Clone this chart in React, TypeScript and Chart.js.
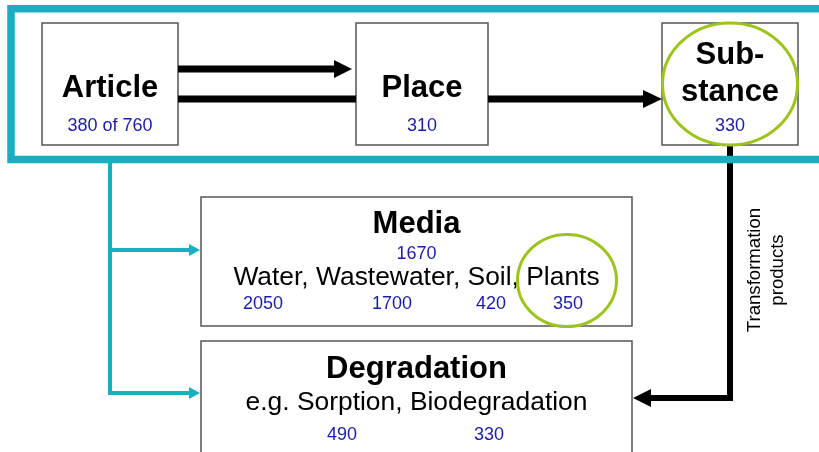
import { useEffect, useRef } from "react";
import { Chart, registerables } from "chart.js";

Chart.register(...registerables);

// ---------- data ----------
const pipelineSteps = ["Article", "Place", "Sub-|stance"];
const pipelineCounts = ["380 of 760", "310", "330"];
const mediaTitle = "Media";
const mediaTotal = ["1670"];
const mediaCategories = ["Water", "Wastewater", "Soil", "Plants"];
const mediaCounts = [2050, 1700, 420, 350];
const degradationTitle = "Degradation";
const degradationCategories = ["Sorption", "Biodegradation"];
const degradationCounts = [490, 330];
const linkLabel = ["Transformation", "products"];

// ---------- layout (positions/sizes/styles) ----------
const W = 819;
const H = 452;
const FONT = "'Liberation Sans', Arial, sans-serif";
const BLUE = "#1c1ca8";
const TEAL = "#19aec0";
const GREEN = "#9cc41c";
const BORDER = "#555555";

const STEP_BOXES = [
  [42, 23, 178, 145],
  [356, 23, 488, 145],
  [662, 23, 798, 145],
];
const STEP_CX = [110, 422, 730];
const MEDIA_BOX = [201, 197, 632, 326];
const DEG_BOX = [201, 341, 632, 472];
const CENTER_X = 416.5;
const MEDIA_COUNT_X = [263, 392, 491, 568];
const MEDIA_COUNT_Y = 309;
const DEG_COUNT_X = [342, 489];
const DEG_COUNT_Y = 440;

function drawArrowH(ctx: CanvasRenderingContext2D, x1: number, y: number, tip: number, width: number, headLen: number, headHalf: number, color: string) {
  const dir = tip > x1 ? 1 : -1;
  const base = tip - dir * headLen;
  ctx.save();
  ctx.strokeStyle = color;
  ctx.fillStyle = color;
  ctx.lineWidth = width;
  ctx.beginPath();
  ctx.moveTo(x1, y);
  ctx.lineTo(base + dir * 1, y);
  ctx.stroke();
  ctx.beginPath();
  ctx.moveTo(tip, y);
  ctx.lineTo(base, y - headHalf);
  ctx.lineTo(base, y + headHalf);
  ctx.closePath();
  ctx.fill();
  ctx.restore();
}

const diagramPlugin = {
  id: "diagram",
  afterDatasetsDraw(chart: any) {
    const ctx: CanvasRenderingContext2D = chart.ctx;
    const sx = chart.scales.x;
    const sy = chart.scales.y;
    const X = (v: number) => sx.getPixelForValue(v);
    const Y = (v: number) => sy.getPixelForValue(v);

    ctx.save();
    ctx.fillStyle = "#ffffff";
    ctx.fillRect(0, 0, W, H);

    // boxes
    const boxes = [...STEP_BOXES, MEDIA_BOX, DEG_BOX];
    boxes.forEach((b) => {
      ctx.fillStyle = "#ffffff";
      ctx.fillRect(X(b[0]), Y(b[1]), X(b[2]) - X(b[0]), Y(b[3]) - Y(b[1]));
      ctx.strokeStyle = BORDER;
      ctx.lineWidth = 1.5;
      ctx.strokeRect(X(b[0]), Y(b[1]), X(b[2]) - X(b[0]), Y(b[3]) - Y(b[1]));
    });

    // black arrows between steps
    drawArrowH(ctx, X(178), Y(69), X(352), 7, 18, 9, "#000");
    ctx.strokeStyle = "#000";
    ctx.lineWidth = 7;
    ctx.beginPath();
    ctx.moveTo(X(178), Y(99));
    ctx.lineTo(X(356), Y(99));
    ctx.stroke();
    drawArrowH(ctx, X(488), Y(99), X(662), 7, 19, 9, "#000");

    // transformation products path
    ctx.strokeStyle = "#000";
    ctx.lineWidth = 6;
    ctx.lineJoin = "miter";
    ctx.beginPath();
    ctx.moveTo(X(730), Y(146));
    ctx.lineTo(X(730), Y(398));
    ctx.lineTo(X(650), Y(398));
    ctx.stroke();
    ctx.fillStyle = "#000";
    ctx.beginPath();
    ctx.moveTo(X(633), Y(398));
    ctx.lineTo(X(651), Y(389));
    ctx.lineTo(X(651), Y(407));
    ctx.closePath();
    ctx.fill();

    // teal frame
    ctx.strokeStyle = TEAL;
    ctx.lineWidth = 7.5;
    ctx.lineJoin = "miter";
    ctx.beginPath();
    ctx.moveTo(X(830), Y(8.75));
    ctx.lineTo(X(11), Y(8.75));
    ctx.lineTo(X(11), Y(159.5));
    ctx.lineTo(X(830), Y(159.5));
    ctx.stroke();

    // teal branch
    ctx.lineWidth = 4;
    ctx.beginPath();
    ctx.moveTo(X(110), Y(162));
    ctx.lineTo(X(110), Y(393));
    ctx.lineTo(X(190), Y(393));
    ctx.stroke();
    drawArrowH(ctx, X(110), Y(250), X(200), 4, 11, 6, TEAL);
    drawArrowH(ctx, X(150), Y(393), X(200), 4, 11, 6, TEAL);

    // texts
    ctx.textAlign = "center";
    ctx.textBaseline = "alphabetic";
    ctx.fillStyle = "#000";
    ctx.font = `bold 31px ${FONT}`;
    pipelineSteps.forEach((s, i) => {
      const lines = s.split("|");
      if (lines.length === 1) {
        ctx.fillText(lines[0], X(STEP_CX[i]), Y(97));
      } else {
        ctx.fillText(lines[0], X(STEP_CX[i]), Y(64));
        ctx.fillText(lines[1], X(STEP_CX[i]), Y(101));
      }
    });
    ctx.fillStyle = BLUE;
    ctx.font = `18px ${FONT}`;
    pipelineCounts.forEach((c, i) => {
      ctx.fillText(c, X(STEP_CX[i]), Y(131));
    });

    // media / degradation
    ctx.fillStyle = "#000";
    ctx.font = `bold 31px ${FONT}`;
    ctx.fillText(mediaTitle, X(CENTER_X), Y(233));
    ctx.fillText(degradationTitle, X(CENTER_X), Y(378));
    ctx.font = `26.4px ${FONT}`;
    ctx.fillText(mediaCategories.join(", "), X(CENTER_X), Y(285));
    ctx.fillText("e.g. " + degradationCategories.join(", "), X(CENTER_X), Y(410));

    ctx.fillStyle = BLUE;
    ctx.font = `18px ${FONT}`;
    chart.data.datasets.forEach((ds: any, di: number) => {
      const meta = chart.getDatasetMeta(di);
      meta.data.forEach((pt: any, i: number) => {
        ctx.fillText(String(ds.labelsText[i]), pt.x, pt.y);
      });
    });

    // vertical label
    ctx.save();
    ctx.fillStyle = "#000";
    ctx.font = `18.6px ${FONT}`;
    ctx.translate(X(759.5), Y(270));
    ctx.rotate(-Math.PI / 2);
    ctx.fillText(linkLabel[0], 0, 0);
    ctx.fillText(linkLabel[1], 0, 23.5);
    ctx.restore();

    // green highlight ellipses
    ctx.strokeStyle = GREEN;
    ctx.lineWidth = 3;
    ctx.beginPath();
    ctx.ellipse(X(730), Y(84), 67.5, 61, 0, 0, Math.PI * 2);
    ctx.stroke();
    ctx.beginPath();
    ctx.ellipse(X(567), Y(280.5), 49.5, 46, 0, 0, Math.PI * 2);
    ctx.stroke();

    ctx.restore();
  },
};

export default function App() {
  const ref = useRef<HTMLCanvasElement | null>(null);
  useEffect(() => {
    if (!ref.current) return;
    const chart = new Chart(ref.current, {
      type: "scatter",
      data: {
        datasets: [
          {
            label: "Media total",
            data: mediaTotal.map(() => ({ x: CENTER_X, y: 259 })),
            labelsText: mediaTotal,
            pointRadius: 0,
          } as any,
          {
            label: "Media",
            data: mediaCounts.map((_, i) => ({ x: MEDIA_COUNT_X[i], y: MEDIA_COUNT_Y })),
            labelsText: mediaCounts,
            pointRadius: 0,
          } as any,
          {
            label: "Degradation",
            data: degradationCounts.map((_, i) => ({ x: DEG_COUNT_X[i], y: DEG_COUNT_Y })),
            labelsText: degradationCounts,
            pointRadius: 0,
          } as any,
        ],
      },
      options: {
        animation: false,
        responsive: false,
        devicePixelRatio: 1,
        layout: { padding: 0 },
        plugins: { legend: { display: false }, tooltip: { enabled: false } },
        events: [],
        scales: {
          x: { type: "linear", min: 0, max: W, display: false },
          y: { type: "linear", min: 0, max: H, reverse: true, display: false },
        },
      },
      plugins: [diagramPlugin],
    });
    return () => chart.destroy();
  }, []);
  return (
    <div style={{ position: "absolute", left: 0, top: 0, width: W, height: H, background: "#fff" }}>
      <canvas ref={ref} width={W} height={H} style={{ width: W, height: H, display: "block" }} />
    </div>
  );
}
